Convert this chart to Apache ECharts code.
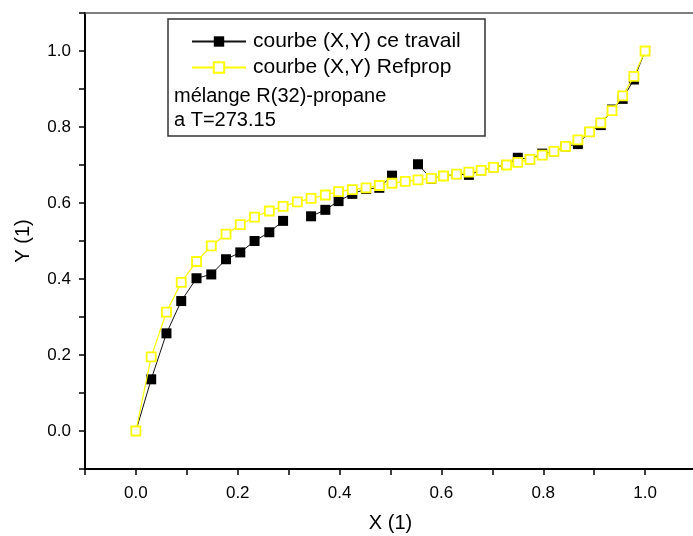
<!DOCTYPE html>
<html>
<head>
<meta charset="utf-8">
<script src="https://cdn.jsdelivr.net/npm/echarts@6/dist/echarts.min.js"></script>
<style>
html,body{margin:0;padding:0;background:#fff;}
#chart{width:693px;height:536px;}
</style>
</head>
<body>
<div id="chart"></div>
<script>
// X values (mole fraction), shared by both series
var xValues = [0, 0.030, 0.060, 0.089, 0.119, 0.148, 0.177, 0.205, 0.233, 0.262,
  0.289, 0.317, 0.344, 0.372, 0.398, 0.425, 0.452, 0.478, 0.503, 0.529,
  0.554, 0.580, 0.604, 0.630, 0.654, 0.678, 0.702, 0.728, 0.750, 0.774,
  0.798, 0.821, 0.844, 0.868, 0.891, 0.913, 0.935, 0.956, 0.978, 1.0];
// "courbe (X,Y) Refprop"
var refpropY = [0, 0.195, 0.313, 0.391, 0.446, 0.487, 0.518, 0.543, 0.563, 0.579,
  0.591, 0.603, 0.612, 0.621, 0.630, 0.635, 0.640, 0.646, 0.652, 0.657,
  0.661, 0.665, 0.671, 0.676, 0.681, 0.686, 0.694, 0.700, 0.707, 0.715,
  0.726, 0.736, 0.749, 0.766, 0.787, 0.811, 0.843, 0.882, 0.933, 1.0];
// "courbe (X,Y) ce travail" (null = no value)
var travailY = [0, 0.136, 0.257, 0.342, 0.402, 0.412, 0.452, 0.470, 0.500, 0.523,
  0.553, null, 0.565, 0.582, 0.605, 0.624, 0.637, 0.640, 0.672, null,
  0.702, 0.664, 0.671, 0.676, 0.674, 0.686, 0.694, 0.700, 0.719, 0.715,
  0.730, 0.736, 0.749, 0.755, 0.787, 0.805, 0.846, 0.874, 0.925, 1.0];
var seriesNames = ['courbe (X,Y) ce travail', 'courbe (X,Y) Refprop'];
var noteLines = ['mélange R(32)-propane', 'a T=273.15'];
var xLabels = ['0.0', '0.2', '0.4', '0.6', '0.8', '1.0'];
var yLabels = ['0.0', '0.2', '0.4', '0.6', '0.8', '1.0'];

function fmt(labels) {
  return function (v) {
    var s = (Math.round(v * 10) / 10).toFixed(1);
    return labels.indexOf(s) >= 0 && Math.round(v * 10) % 2 === 0 ? s : '';
  };
}

var font = 'Liberation Sans, Arial, sans-serif';
var chart = echarts.init(document.getElementById('chart'), null, {renderer: 'canvas'});
chart.setOption({
  animation: false,
  backgroundColor: '#ffffff',
  textStyle: {fontFamily: font},
  grid: {left: 85, top: 13, width: 611, bottom: 67, containLabel: false, outerBoundsMode: 'none'},
  xAxis: [{
    type: 'value', min: -0.1, max: 1.1, interval: 0.1, position: 'bottom',
    name: 'X (1)', nameLocation: 'middle', nameGap: 44,
    nameTextStyle: {fontSize: 20, color: '#000', fontFamily: font},
    axisLine: {show: true, onZero: false, lineStyle: {color: '#000', width: 2}},
    axisTick: {show: true, inside: false, length: 6, lineStyle: {color: '#000', width: 1.5}},
    axisLabel: {formatter: fmt(xLabels), fontSize: 17, color: '#000', margin: 16, fontFamily: font, showMinLabel: true, showMaxLabel: true},
    splitLine: {show: false}
  }, {
    type: 'value', min: -0.1, max: 1.1, position: 'top',
    axisLine: {show: true, onZero: false, lineStyle: {color: '#555', width: 1.5}},
    axisTick: {show: false}, axisLabel: {show: false}, splitLine: {show: false}
  }],
  yAxis: [{
    type: 'value', min: -0.1, max: 1.1, interval: 0.1,
    name: 'Y (1)', nameLocation: 'middle', nameGap: 52, nameRotate: 90,
    nameTextStyle: {fontSize: 20, color: '#000', fontFamily: font},
    axisLine: {show: true, onZero: false, lineStyle: {color: '#000', width: 2}},
    axisTick: {show: true, inside: false, length: 6, lineStyle: {color: '#000', width: 1.5}},
    axisLabel: {formatter: fmt(yLabels), fontSize: 17, color: '#000', margin: 14, fontFamily: font},
    splitLine: {show: false}
  }],
  legend: {
    show: true, orient: 'vertical', left: 191, top: 31, padding: 0,
    itemWidth: 54, itemHeight: 13, itemGap: 5,
    textStyle: {fontSize: 21, color: '#000', fontFamily: font, padding: [0, 0, 0, 2]},
    data: seriesNames
  },
  graphic: [
    {type: 'rect', shape: {x: 168, y: 19, width: 317, height: 117}, z: 0,
      style: {fill: 'rgba(255,255,255,0)', stroke: '#333', lineWidth: 1.5}},
    {type: 'text', x: 174, y: 96, z: 10,
      style: {text: noteLines[0], fontSize: 20, fill: '#000', fontFamily: font, textVerticalAlign: 'middle'}},
    {type: 'text', x: 174, y: 120, z: 10,
      style: {text: noteLines[1], fontSize: 20, fill: '#000', fontFamily: font, textVerticalAlign: 'middle'}}
  ],
  series: [{
    name: seriesNames[0], type: 'line',
    data: xValues.map(function (x, i) { return [x, travailY[i] === null ? '-' : travailY[i]]; }),
    connectNulls: false,
    symbol: 'rect', symbolSize: 10, showAllSymbol: true,
    lineStyle: {color: '#111', width: 1},
    itemStyle: {color: '#000', borderWidth: 0},
    z: 2
  }, {
    name: seriesNames[1], type: 'line',
    data: xValues.map(function (x, i) { return [x, refpropY[i]]; }),
    symbol: 'rect', symbolSize: 9, showAllSymbol: true,
    lineStyle: {color: '#ffff00', width: 1.2},
    itemStyle: {color: '#ffffff', borderColor: '#ffff00', borderWidth: 1.8},
    z: 3
  }]
});
</script>
</body>
</html>
